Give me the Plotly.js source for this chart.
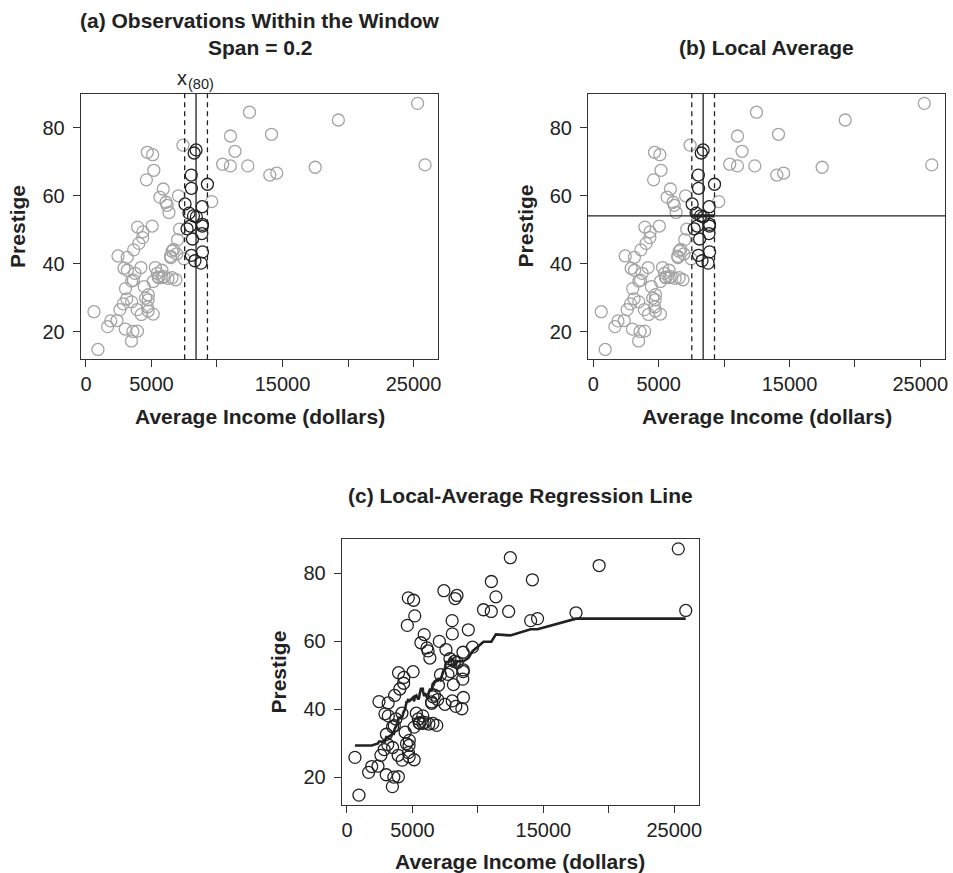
<!DOCTYPE html>
<html>
<head>
<meta charset="utf-8">
<script src="https://cdn.plot.ly/plotly-3.0.1.min.js"></script>
<style>
  html, body { margin: 0; padding: 0; background: #ffffff; }
  #chart { width: 953px; height: 873px; }
</style>
</head>
<body>
<div id="chart"></div>
<script>
// Canadian occupations: average income (dollars) and prestige score
const income = [12351, 25879, 9271, 8865, 8403, 11030, 8258, 14163, 11377, 11023,
  5902, 7059, 8425, 8049, 7405, 6336, 19263, 6112, 9593, 4686,
  12480, 5648, 8034, 25308, 14558, 17498, 4614, 3485, 5092, 10432,
  5180, 6197, 7562, 8206, 4036, 3148, 4348, 2448, 4330, 4761,
  3016, 2901, 5511, 3739, 3161, 4741, 5052, 6259,
  7482, 8780, 2594, 918, 2370, 8131, 6992, 7956, 8895, 8891,
  3116, 3930, 7869, 611, 3000, 3472, 3582, 3643, 1656, 6860,
  4199, 5134, 5134, 1890, 4443, 3485, 8043, 6686, 6565, 6477,
  5811, 6573, 3942, 5449, 2847, 5795, 7716, 4696, 8316, 7147,
  8880, 5299, 5959, 4549, 6928, 3910, 14032, 8845, 5562, 4224,
  4753, 6462, 3617];
const prestige = [68.8, 69.1, 63.4, 56.8, 73.5, 77.6, 72.6, 78.1, 73.1, 68.8,
  62.0, 60.0, 53.8, 62.2, 74.9, 55.1, 82.3, 58.1, 58.3, 72.8,
  84.6, 59.6, 66.1, 87.2, 66.7, 68.4, 64.7, 34.9, 72.1, 69.3,
  67.5, 57.2, 57.6, 54.1, 46.0, 41.9, 49.4, 42.3, 47.7, 30.9,
  32.7, 38.7, 36.1, 37.2, 38.1, 29.4, 51.1, 35.7,
  41.5, 40.2, 26.5, 14.8, 23.3, 47.3, 47.1, 51.1, 43.5, 51.6,
  29.7, 20.2, 54.9, 25.9, 20.8, 17.3, 20.1, 44.1, 21.5, 35.3,
  38.9, 25.2, 34.8, 23.2, 33.3, 28.8, 42.5, 44.2, 35.9, 41.8,
  35.9, 43.7, 50.8, 37.2, 28.2, 38.1, 50.3, 27.3, 40.9, 50.2,
  51.1, 38.9, 36.2, 29.9, 42.9, 26.5, 66.1, 48.9, 35.9, 25.1,
  26.1, 42.2, 35.2];

// Window around the 80th ordered income, span = 0.2
const focalIncome = 8403;
const windowLow = 7535;
const windowHigh = 9271;
const localAverage = 54.1;

// Local-average regression line, one vertex per ordered income
const fitIncome = [611, 918, 1656, 1890, 2370, 2448, 2594, 2847, 2901, 3000,
  3016, 3116, 3148, 3161, 3472, 3485, 3485, 3582, 3617, 3643,
  3739, 3910, 3930, 3942, 4036, 4199, 4224, 4330, 4348, 4443,
  4549, 4614, 4686, 4696, 4741, 4753, 4761, 5052, 5092, 5134,
  5134, 5180, 5299, 5449, 5511, 5562, 5648, 5795, 5811, 5902,
  5959, 6112, 6197, 6259, 6336, 6462, 6477, 6565, 6573, 6686,
  6860, 6928, 6992, 7059, 7147, 7405, 7482, 7562, 7716, 7869,
  7956, 8034, 8043, 8049, 8131, 8206, 8258, 8316, 8403, 8425,
  8780, 8845, 8865, 8880, 8891, 8895, 9271, 9593, 10432, 11023,
  11030, 11377, 12351, 12480, 14032, 14163, 14558, 17498, 19263, 25308,
  25879];
const fitPrestige = [29.40, 29.40, 29.40, 29.40, 29.97, 30.55, 30.55, 30.49, 30.49, 31.87,
  31.87, 31.87, 31.87, 31.87, 32.76, 32.76, 32.76, 32.76, 33.74, 34.27,
  34.90, 36.51, 37.51, 37.51, 37.51, 37.78, 37.78, 39.33, 39.33, 40.11,
  42.16, 42.16, 43.10, 42.42, 42.42, 42.42, 42.42, 43.50, 42.34, 42.34,
  42.34, 43.78, 44.09, 42.98, 43.40, 44.69, 46.04, 46.04, 45.28, 43.86,
  44.81, 43.60, 44.01, 45.15, 45.86, 45.86, 45.86, 47.81, 46.90, 47.88,
  48.60, 48.24, 48.99, 48.99, 48.65, 51.72, 51.97, 53.94, 53.94, 54.19,
  54.97, 54.60, 54.60, 54.60, 54.60, 53.03, 53.03, 53.03, 54.12, 54.12,
  54.16, 54.16, 54.16, 54.16, 54.16, 54.16, 55.11, 57.13, 59.91, 59.91,
  59.91, 62.05, 61.76, 61.76, 63.57, 63.57, 63.57, 66.69, 66.69, 66.69,
  66.69];

const FONT = 'Liberation Sans, Arial, Helvetica, sans-serif';
const INK = '#222222';
const GREY = '#a3a3a3';
const W = 953, H = 873;
const px = v => v / W;
const py = v => 1 - v / H;

const inWin = income.map(v => v >= windowLow && v <= windowHigh);
const pick = (arr, keep) => arr.filter((_, i) => inWin[i] === keep);

function circles(x, y, color, xa, ya) {
  return {
    type: 'scatter', mode: 'markers', x: x, y: y, xaxis: xa, yaxis: ya,
    marker: { symbol: 'circle-open', size: 12, color: color, line: { width: 1.3, color: color } },
    hoverinfo: 'x+y', showlegend: false
  };
}

const traces = [
  circles(pick(income, false), pick(prestige, false), GREY, 'x', 'y'),
  circles(pick(income, true), pick(prestige, true), INK, 'x', 'y'),
  circles(pick(income, false), pick(prestige, false), GREY, 'x2', 'y2'),
  circles(pick(income, true), pick(prestige, true), INK, 'x2', 'y2'),
  circles(income, prestige, INK, 'x3', 'y3'),
  {
    type: 'scatter', mode: 'lines', x: fitIncome, y: fitPrestige, xaxis: 'x3', yaxis: 'y3',
    line: { color: INK, width: 2.6 }, hoverinfo: 'skip', showlegend: false
  }
];

const xBase = {
  range: [-400, 26890],
  tickvals: [0, 5000, 15000, 25000],
  ticktext: ['0', '5000', '15000', '25000'],
  minor: { tickvals: [10000, 20000], ticks: 'outside', ticklen: 7, tickwidth: 1, tickcolor: '#333', showgrid: false },
  ticks: 'outside', ticklen: 7, tickwidth: 1, tickcolor: '#333',
  showline: true, linecolor: '#333', linewidth: 1, mirror: true,
  showgrid: false, zeroline: false,
  tickfont: { family: FONT, size: 20, color: INK }
};
const yBase = {
  range: [11.9, 90.1],
  tickvals: [20, 40, 60, 80],
  ticks: 'outside', ticklen: 7, tickwidth: 1, tickcolor: '#333',
  showline: true, linecolor: '#333', linewidth: 1, mirror: true,
  showgrid: false, zeroline: false, ticklabelstandoff: 4,
  tickfont: { family: FONT, size: 20, color: INK }
};

const domA = [px(80.7), px(438.3)];
const domB = [px(588), px(945)];
const domC = [px(341.7), px(699)];
const domTop = [py(359.3), py(93.5)];
const domBot = [py(805), py(539)];

function vline(xref, x, dash) {
  return { type: 'line', xref: xref, yref: xref.replace('x', 'y') + ' domain', x0: x, x1: x, y0: 0, y1: 1,
    line: { color: INK, width: 1.3, dash: dash } };
}

const shapes = [
  vline('x', windowLow, '5px,4px'), vline('x', focalIncome, 'solid'), vline('x', windowHigh, '5px,4px'),
  vline('x2', windowLow, '5px,4px'), vline('x2', focalIncome, 'solid'), vline('x2', windowHigh, '5px,4px'),
  { type: 'line', xref: 'x2 domain', yref: 'y2', x0: 0, x1: 1, y0: localAverage, y1: localAverage,
    line: { color: INK, width: 1.3 } },
  { type: 'line', xref: 'x2', yref: 'y2', x0: windowLow, x1: windowHigh, y0: localAverage, y1: localAverage,
    line: { color: INK, width: 3.2 } }
];

function label(text, x, y, opts) {
  return Object.assign({
    text: text, xref: 'paper', yref: 'paper', x: px(x), y: py(y),
    xanchor: 'center', yanchor: 'middle', showarrow: false,
    font: { family: FONT, size: 21, color: INK }
  }, opts || {});
}

const annotations = [
  label('<b>(a) Observations Within the Window</b>', 259.5, 20),
  label('<b>Span = 0.2</b>', 259.5, 47),
  // x with the order-statistic subscript (80), set as two pieces
  label('x', 181.7, 91, { yanchor: 'bottom', font: { family: FONT, size: 20, color: INK } }),
  label('(80)', 200.5, 94, { yanchor: 'bottom', font: { family: FONT, size: 14.5, color: INK } }),
  label('<b>(b) Local Average</b>', 766.5, 47),
  label('<b>(c) Local-Average Regression Line</b>', 520.3, 495),
  label('<b>Prestige</b>', 17.5, 226.4, { textangle: -90 }),
  label('<b>Prestige</b>', 525, 226.4, { textangle: -90 }),
  label('<b>Prestige</b>', 277.5, 672, { textangle: -90 }),
  label('<b>Average Income (dollars)</b>', 259.5, 416.7),
  label('<b>Average Income (dollars)</b>', 766.5, 416.7),
  label('<b>Average Income (dollars)</b>', 520.3, 861)
];

const layout = {
  width: W, height: H,
  margin: { l: 0, r: 0, t: 0, b: 0 },
  paper_bgcolor: '#ffffff', plot_bgcolor: '#ffffff',
  showlegend: false,
  xaxis: Object.assign({}, xBase, { domain: domA, anchor: 'y' }),
  yaxis: Object.assign({}, yBase, { domain: domTop, anchor: 'x' }),
  xaxis2: Object.assign({}, xBase, { domain: domB, anchor: 'y2' }),
  yaxis2: Object.assign({}, yBase, { domain: domTop, anchor: 'x2' }),
  xaxis3: Object.assign({}, xBase, { domain: domC, anchor: 'y3' }),
  yaxis3: Object.assign({}, yBase, { domain: domBot, anchor: 'x3' }),
  shapes: shapes,
  annotations: annotations
};

Plotly.newPlot('chart', traces, layout, { displayModeBar: false, staticPlot: true });
</script>
</body>
</html>
